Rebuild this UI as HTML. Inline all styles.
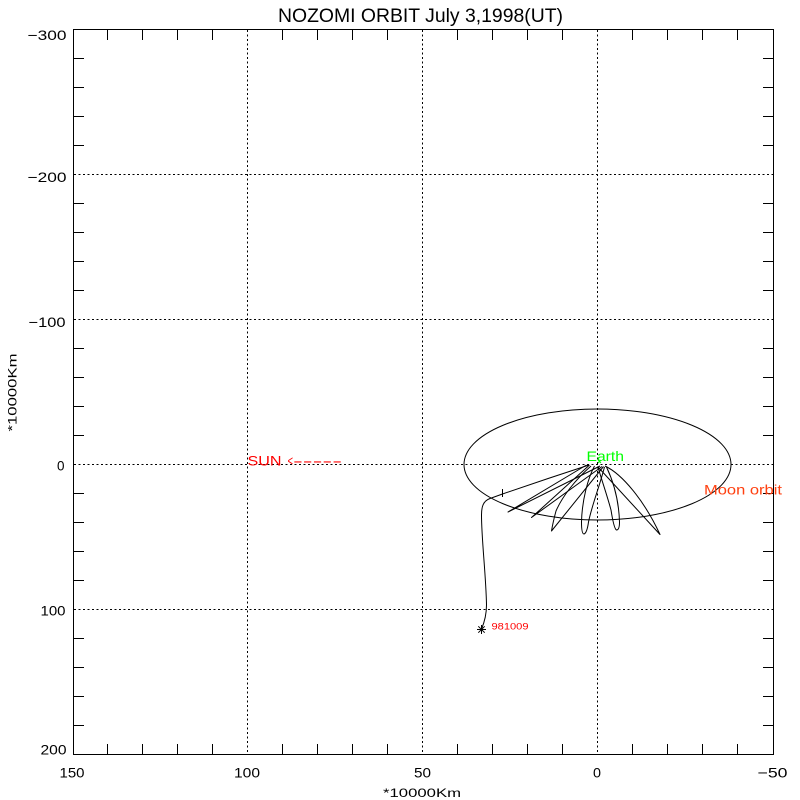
<!DOCTYPE html>
<html>
<head>
<meta charset="utf-8">
<style>
  html, body { margin: 0; padding: 0; background: #ffffff; }
  svg { display: block; }
  text { font-family: "Liberation Sans", "DejaVu Sans", sans-serif; }
</style>
</head>
<body>
<svg width="800" height="800" viewBox="0 0 800 800" xmlns="http://www.w3.org/2000/svg">
  <rect x="0" y="0" width="800" height="800" fill="#ffffff"/>

  <!-- Title -->
  <text x="420.5" y="22" font-size="19" text-anchor="middle" textLength="285" lengthAdjust="spacingAndGlyphs" fill="#000">NOZOMI ORBIT July 3,1998(UT)</text>

  <!-- Dotted grid -->
  <g stroke="#000" stroke-width="1" stroke-dasharray="2 2.5" fill="none" shape-rendering="crispEdges">
    <line x1="247.5" y1="30" x2="247.5" y2="754"/>
    <line x1="422.5" y1="30" x2="422.5" y2="754"/>
    <line x1="597.5" y1="30" x2="597.5" y2="754"/>
    <line x1="74" y1="174.5" x2="773" y2="174.5"/>
    <line x1="74" y1="319.5" x2="773" y2="319.5"/>
    <line x1="74" y1="464.5" x2="773" y2="464.5"/>
    <line x1="74" y1="609.5" x2="773" y2="609.5"/>
  </g>

  <!-- Axes box -->
  <rect x="73.5" y="29.5" width="700" height="725" fill="none" stroke="#000" stroke-width="1" shape-rendering="crispEdges"/>

  <!-- Ticks -->
  <path stroke="#000" stroke-width="1" fill="none" shape-rendering="crispEdges" d="
    M107.5 754.5 V744 M142.5 754.5 V744 M177.5 754.5 V744 M212.5 754.5 V744
    M282.5 754.5 V744 M317.5 754.5 V744 M352.5 754.5 V744 M387.5 754.5 V744
    M457.5 754.5 V744 M492.5 754.5 V744 M527.5 754.5 V744 M562.5 754.5 V744
    M632.5 754.5 V744 M667.5 754.5 V744 M702.5 754.5 V744 M737.5 754.5 V744
    M107.5 29.5 V40 M142.5 29.5 V40 M177.5 29.5 V40 M212.5 29.5 V40
    M282.5 29.5 V40 M317.5 29.5 V40 M352.5 29.5 V40 M387.5 29.5 V40
    M457.5 29.5 V40 M492.5 29.5 V40 M527.5 29.5 V40 M562.5 29.5 V40
    M632.5 29.5 V40 M667.5 29.5 V40 M702.5 29.5 V40 M737.5 29.5 V40
    M73.5 58.5 H84 M73.5 87.5 H84 M73.5 116.5 H84 M73.5 145.5 H84
    M73.5 203.5 H84 M73.5 232.5 H84 M73.5 261.5 H84 M73.5 290.5 H84
    M73.5 348.5 H84 M73.5 377.5 H84 M73.5 406.5 H84 M73.5 435.5 H84
    M73.5 493.5 H84 M73.5 522.5 H84 M73.5 551.5 H84 M73.5 580.5 H84
    M73.5 638.5 H84 M73.5 667.5 H84 M73.5 696.5 H84 M73.5 725.5 H84
    M773.5 58.5 H763 M773.5 87.5 H763 M773.5 116.5 H763 M773.5 145.5 H763
    M773.5 203.5 H763 M773.5 232.5 H763 M773.5 261.5 H763 M773.5 290.5 H763
    M773.5 348.5 H763 M773.5 377.5 H763 M773.5 406.5 H763 M773.5 435.5 H763
    M773.5 493.5 H763 M773.5 522.5 H763 M773.5 551.5 H763 M773.5 580.5 H763
    M773.5 638.5 H763 M773.5 667.5 H763 M773.5 696.5 H763 M773.5 725.5 H763
  "/>

  <!-- Y tick labels -->
  <g font-size="14" fill="#000" text-anchor="end">
    <text x="66.5" y="40" textLength="39" lengthAdjust="spacingAndGlyphs">−300</text>
    <text x="66.5" y="182" textLength="39" lengthAdjust="spacingAndGlyphs">−200</text>
    <text x="65.5" y="327" textLength="37" lengthAdjust="spacingAndGlyphs">−100</text>
    <text x="64.5" y="470.5" textLength="7.5" lengthAdjust="spacingAndGlyphs">0</text>
    <text x="65.5" y="615.5" textLength="25" lengthAdjust="spacingAndGlyphs">100</text>
    <text x="66.5" y="754.5" textLength="26" lengthAdjust="spacingAndGlyphs">200</text>
  </g>

  <!-- X tick labels -->
  <g font-size="14" fill="#000" text-anchor="middle">
    <text x="72" y="777.5" textLength="25" lengthAdjust="spacingAndGlyphs">150</text>
    <text x="247" y="777.5" textLength="26" lengthAdjust="spacingAndGlyphs">100</text>
    <text x="422.5" y="777.5" textLength="17" lengthAdjust="spacingAndGlyphs">50</text>
    <text x="597" y="777.5" textLength="8" lengthAdjust="spacingAndGlyphs">0</text>
    <text x="772.5" y="777.5" textLength="30" lengthAdjust="spacingAndGlyphs">−50</text>
  </g>

  <!-- Axis titles -->
  <text x="422" y="797" font-size="12" text-anchor="middle" textLength="78" lengthAdjust="spacingAndGlyphs" fill="#000">*10000Km</text>
  <text transform="translate(16.5,392.5) rotate(-90)" x="0" y="0" font-size="12" text-anchor="middle" textLength="78" lengthAdjust="spacingAndGlyphs" fill="#000">*10000Km</text>

  <!-- Moon orbit ellipse -->
  <ellipse cx="597.5" cy="464.5" rx="133.5" ry="55.5" fill="none" stroke="#000" stroke-width="1"/>

  <!-- Trajectory -->
  <g fill="none" stroke="#000" stroke-width="1" stroke-linejoin="round">
    <!-- Petal F -->
    <path d="M586.5 465 L508 512 L600 466"/>
    <!-- Petal E -->
    <path d="M589.5 465 L531.5 517.5 L602 466.5"/>
    <!-- Petal D -->
    <path d="M591 466 C575 480 562 497 556 511 Q553 522 551.5 531 L603.5 466.5"/>
    <!-- Petal C -->
    <path d="M594.5 466 C588 478 582 500 581.5 522 Q581.5 534 584 534 Q587 533 588.5 522 C592 505 599 488 604.5 467"/>
    <!-- Petal B -->
    <path d="M598 467 C601 478 607 495 611 510 Q614 529 616.5 530 Q619.5 530 619.5 522 C619 505 615 485 606.5 467"/>
    <!-- Petal A -->
    <path d="M605 466 C622 474 644 500 660 534.5 L598 467"/>
    <!-- Departure -->
    <path d="M589 465 Q546 479 502.5 494 L490 498.5 C483 501 481.5 507 481.5 515 C481.5 540 486 575 486.5 605 C486.5 615 484.5 622 481.5 629"/>
    <path d="M502.5 489 L502.5 497"/>
  </g>

  <!-- End marker (asterisk) -->
  <g stroke="#000" stroke-width="1">
    <line x1="477" y1="629.5" x2="486" y2="629.5"/>
    <line x1="481.5" y1="625" x2="481.5" y2="634"/>
    <line x1="478.3" y1="626.3" x2="484.7" y2="632.7"/>
    <line x1="478.3" y1="632.7" x2="484.7" y2="626.3"/>
  </g>

  <!-- Earth marker -->
  <g stroke="#00ff00" stroke-width="1">
    <line x1="598" y1="460" x2="601" y2="463"/>
    <line x1="598" y1="463" x2="601" y2="460"/>
  </g>

  <!-- Labels -->
  <text x="586.5" y="461" font-size="14" fill="#00ff00" textLength="37.5" lengthAdjust="spacingAndGlyphs">Earth</text>
  <text x="704" y="494.5" font-size="14" fill="#ff4010" textLength="78" lengthAdjust="spacingAndGlyphs">Moon orbit</text>
  <text x="247.5" y="465.5" font-size="14" fill="#ff0000"><tspan x="247.5" textLength="34" lengthAdjust="spacingAndGlyphs">SUN</tspan><tspan x="285" textLength="8" lengthAdjust="spacingAndGlyphs"> &lt;</tspan><tspan x="293" textLength="49" lengthAdjust="spacingAndGlyphs">-----</tspan></text>
  <text x="491.5" y="629.5" font-size="9.5" fill="#ff0000" textLength="37" lengthAdjust="spacingAndGlyphs">981009</text>
</svg>
</body>
</html>
